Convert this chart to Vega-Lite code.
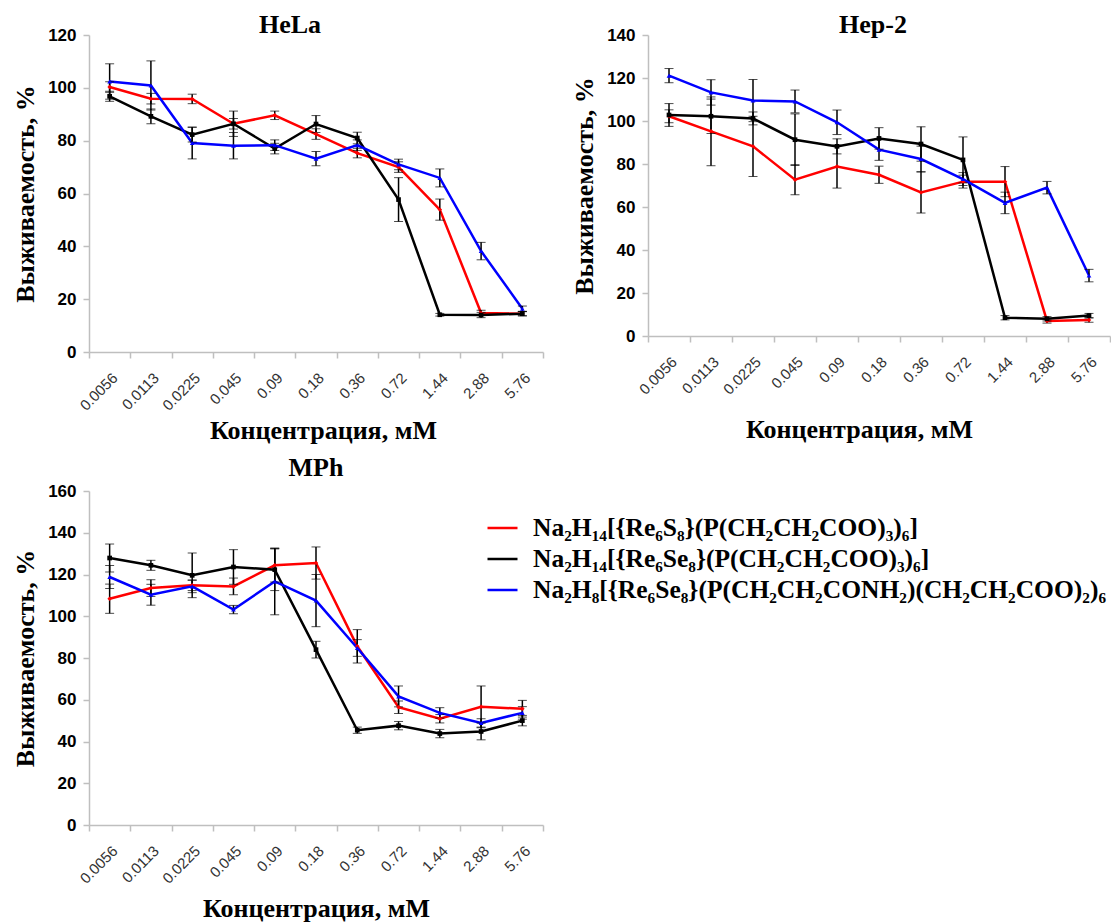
{
 "$schema": "https://vega.github.io/schema/vega-lite/v6.json",
 "padding": {"left": 12, "top": 12, "right": 0, "bottom": 0},
 "background": "white",
 "columns": 2,
 "align": "each",
 "bounds": "flush",
 "spacing": {"row": 139, "column": 105},
 "datasets": {"d": [
  {"p":"HeLa","s":"A","c":"0.0056","v":100.3,"e":2},{"p":"HeLa","s":"A","c":"0.0113","v":95.9,"e":2},{"p":"HeLa","s":"A","c":"0.0225","v":95.8,"e":1.8},{"p":"HeLa","s":"A","c":"0.045","v":86.4,"e":2},{"p":"HeLa","s":"A","c":"0.09","v":89.6,"e":1.6},{"p":"HeLa","s":"A","c":"0.18","v":82.5,"e":2},{"p":"HeLa","s":"A","c":"0.36","v":75.3,"e":1.8},{"p":"HeLa","s":"A","c":"0.72","v":70,"e":2},{"p":"HeLa","s":"A","c":"1.44","v":53.9,"e":4},{"p":"HeLa","s":"A","c":"2.88","v":14.8,"e":1},{"p":"HeLa","s":"A","c":"5.76","v":14.5,"e":0.8},
  {"p":"HeLa","s":"B","c":"0.0056","v":96.8,"e":1.9},{"p":"HeLa","s":"B","c":"0.0113","v":89.2,"e":2.8},{"p":"HeLa","s":"B","c":"0.0225","v":82.3,"e":2.8},{"p":"HeLa","s":"B","c":"0.045","v":86.4,"e":4.8},{"p":"HeLa","s":"B","c":"0.09","v":77,"e":2},{"p":"HeLa","s":"B","c":"0.18","v":86.3,"e":3.2},{"p":"HeLa","s":"B","c":"0.36","v":81,"e":2.2},{"p":"HeLa","s":"B","c":"0.72","v":57.7,"e":8.3},{"p":"HeLa","s":"B","c":"1.44","v":14.1,"e":0.5},{"p":"HeLa","s":"B","c":"2.88","v":14,"e":1},{"p":"HeLa","s":"B","c":"5.76","v":14.5,"e":0.8},
  {"p":"HeLa","s":"C","c":"0.0056","v":102.4,"e":6.7},{"p":"HeLa","s":"C","c":"0.0113","v":100.9,"e":9.3},{"p":"HeLa","s":"C","c":"0.0225","v":79.1,"e":6},{"p":"HeLa","s":"C","c":"0.045","v":78.1,"e":5},{"p":"HeLa","s":"C","c":"0.09","v":78.3,"e":2},{"p":"HeLa","s":"C","c":"0.18","v":73.2,"e":2.7},{"p":"HeLa","s":"C","c":"0.36","v":78.3,"e":2},{"p":"HeLa","s":"C","c":"0.72","v":71,"e":2},{"p":"HeLa","s":"C","c":"1.44","v":65.9,"e":3.4},{"p":"HeLa","s":"C","c":"2.88","v":38.2,"e":3.3},{"p":"HeLa","s":"C","c":"5.76","v":16.4,"e":1},
  {"p":"Hep","s":"A","c":"0.0056","v":102.2,"e":3},{"p":"Hep","s":"A","c":"0.0113","v":95.2,"e":16},{"p":"Hep","s":"A","c":"0.0225","v":88.2,"e":14},{"p":"Hep","s":"A","c":"0.045","v":72.7,"e":7},{"p":"Hep","s":"A","c":"0.09","v":78.8,"e":10},{"p":"Hep","s":"A","c":"0.18","v":75,"e":4},{"p":"Hep","s":"A","c":"0.36","v":66.8,"e":9.6},{"p":"Hep","s":"A","c":"0.72","v":71.8,"e":3},{"p":"Hep","s":"A","c":"1.44","v":71.8,"e":7},{"p":"Hep","s":"A","c":"2.88","v":7,"e":1},{"p":"Hep","s":"A","c":"5.76","v":7.4,"e":1},
  {"p":"Hep","s":"B","c":"0.0056","v":102.8,"e":5.3},{"p":"Hep","s":"B","c":"0.0113","v":102.2,"e":8},{"p":"Hep","s":"B","c":"0.0225","v":101.2,"e":3},{"p":"Hep","s":"B","c":"0.045","v":91.3,"e":12},{"p":"Hep","s":"B","c":"0.09","v":88.2,"e":3.5},{"p":"Hep","s":"B","c":"0.18","v":91.9,"e":5},{"p":"Hep","s":"B","c":"0.36","v":89.3,"e":8},{"p":"Hep","s":"B","c":"0.72","v":81.9,"e":10.7},{"p":"Hep","s":"B","c":"1.44","v":8.5,"e":1},{"p":"Hep","s":"B","c":"2.88","v":8,"e":1},{"p":"Hep","s":"B","c":"5.76","v":9.5,"e":1},
  {"p":"Hep","s":"C","c":"0.0056","v":121.1,"e":3.3},{"p":"Hep","s":"C","c":"0.0113","v":113.3,"e":5.9},{"p":"Hep","s":"C","c":"0.0225","v":109.5,"e":9.8},{"p":"Hep","s":"C","c":"0.045","v":109.1,"e":5.3},{"p":"Hep","s":"C","c":"0.09","v":99.4,"e":5.7},{"p":"Hep","s":"C","c":"0.18","v":86.7,"e":5},{"p":"Hep","s":"C","c":"0.36","v":82.3,"e":6},{"p":"Hep","s":"C","c":"0.72","v":73,"e":3},{"p":"Hep","s":"C","c":"1.44","v":61.9,"e":5},{"p":"Hep","s":"C","c":"2.88","v":69,"e":2.9},{"p":"Hep","s":"C","c":"5.76","v":28.1,"e":2.9},
  {"p":"MPh","s":"A","c":"0.0056","v":108.4,"e":7},{"p":"MPh","s":"A","c":"0.0113","v":113.5,"e":4},{"p":"MPh","s":"A","c":"0.0225","v":114.8,"e":2.5},{"p":"MPh","s":"A","c":"0.045","v":114.3,"e":4},{"p":"MPh","s":"A","c":"0.09","v":124.4,"e":8},{"p":"MPh","s":"A","c":"0.18","v":125.5,"e":7.7},{"p":"MPh","s":"A","c":"0.36","v":85.6,"e":8},{"p":"MPh","s":"A","c":"0.72","v":56.4,"e":3},{"p":"MPh","s":"A","c":"1.44","v":50.9,"e":2},{"p":"MPh","s":"A","c":"2.88","v":56.6,"e":10},{"p":"MPh","s":"A","c":"5.76","v":55.7,"e":4},
  {"p":"MPh","s":"B","c":"0.0056","v":127.9,"e":6.7},{"p":"MPh","s":"B","c":"0.0113","v":124.4,"e":2.4},{"p":"MPh","s":"B","c":"0.0225","v":119.6,"e":10.7},{"p":"MPh","s":"B","c":"0.045","v":123.6,"e":8.3},{"p":"MPh","s":"B","c":"0.09","v":122.3,"e":10},{"p":"MPh","s":"B","c":"0.18","v":84,"e":4},{"p":"MPh","s":"B","c":"0.36","v":45.4,"e":1.5},{"p":"MPh","s":"B","c":"0.72","v":47.6,"e":2},{"p":"MPh","s":"B","c":"1.44","v":43.8,"e":2},{"p":"MPh","s":"B","c":"2.88","v":44.8,"e":4},{"p":"MPh","s":"B","c":"5.76","v":50,"e":2.5},
  {"p":"MPh","s":"C","c":"0.0056","v":118.8,"e":5.5},{"p":"MPh","s":"C","c":"0.0113","v":110.3,"e":5},{"p":"MPh","s":"C","c":"0.0225","v":114.3,"e":3},{"p":"MPh","s":"C","c":"0.045","v":103.2,"e":2},{"p":"MPh","s":"C","c":"0.09","v":116.7,"e":16},{"p":"MPh","s":"C","c":"0.18","v":107.5,"e":12.5},{"p":"MPh","s":"C","c":"0.36","v":84.8,"e":4},{"p":"MPh","s":"C","c":"0.72","v":61.6,"e":5},{"p":"MPh","s":"C","c":"1.44","v":53.7,"e":2.5},{"p":"MPh","s":"C","c":"2.88","v":48.9,"e":2},{"p":"MPh","s":"C","c":"5.76","v":53.7,"e":3}
 ]},
 "resolve": {
  "scale": {"x": "independent", "y": "independent", "color": "independent"},
  "legend": {"color": "independent"}
 },
 "concat": [
  {
   "width": 454, "height": 317,
   "data": {"name": "d"},
   "transform": [{"filter": "datum.p === 'HeLa'"}],
   "title": {"text": "HeLa", "dx": -26, "offset": -12},
   "encoding": {
    "x": {"field": "c", "type": "ordinal", "scale": {"type": "band", "domain": ["0.0056","0.0113","0.0225","0.045","0.09","0.18","0.36","0.72","1.44","2.88","5.76"], "paddingInner": 0, "paddingOuter": 0}, "axis": {"title": "Концентрация, мМ", "titleX": 234, "titlePadding": 4}},
    "y": {"field": "v", "type": "quantitative", "scale": {"domain": [0, 120]}, "axis": {"title": "Выживаемость, %", "values": [0,20,40,60,80,100,120]}}
   },
   "layer": [
    {"mark": {"type": "line", "strokeWidth": 2.5}, "encoding": {"color": {"field": "s", "type": "nominal", "scale": {"domain": ["A","B","C"], "range": ["#ff0000","#000000","#0000ff"]}, "legend": null}}},
    {"mark": {"type": "errorbar", "color": "black", "ticks": {"size": 9, "strokeWidth": 1.5}, "rule": {"strokeWidth": 1.5}}, "encoding": {"yError": {"field": "e"}}},
    {"transform": [{"filter": "datum.s === 'A'"}], "mark": {"type": "point", "filled": true, "opacity": 1, "size": 20, "shape": "diamond", "color": "#ff0000"}},
    {"transform": [{"filter": "datum.s === 'B'"}], "mark": {"type": "point", "filled": true, "opacity": 1, "size": 22, "shape": "square", "color": "#000000"}},
    {"transform": [{"filter": "datum.s === 'C'"}], "mark": {"type": "point", "filled": true, "opacity": 1, "size": 22, "shape": "triangle-up", "color": "#0000ff"}}
   ]
  },
  {
   "width": 462, "height": 301,
   "data": {"name": "d"},
   "transform": [{"filter": "datum.p === 'Hep'"}],
   "title": {"text": "Hep-2", "dx": -6, "offset": -12},
   "encoding": {
    "x": {"field": "c", "type": "ordinal", "scale": {"type": "band", "domain": ["0.0056","0.0113","0.0225","0.045","0.09","0.18","0.36","0.72","1.44","2.88","5.76"], "paddingInner": 0, "paddingOuter": 0}, "axis": {"title": "Концентрация, мМ", "titleX": 211, "titlePadding": 19}},
    "y": {"field": "v", "type": "quantitative", "scale": {"domain": [0, 140]}, "axis": {"title": "Выживаемость, %", "values": [0,20,40,60,80,100,120,140]}}
   },
   "layer": [
    {"mark": {"type": "line", "strokeWidth": 2.5}, "encoding": {"color": {"field": "s", "type": "nominal", "scale": {"domain": ["A","B","C"], "range": ["#ff0000","#000000","#0000ff"]}, "legend": null}}},
    {"mark": {"type": "errorbar", "color": "black", "ticks": {"size": 9, "strokeWidth": 1.5}, "rule": {"strokeWidth": 1.5}}, "encoding": {"yError": {"field": "e"}}},
    {"transform": [{"filter": "datum.s === 'A'"}], "mark": {"type": "point", "filled": true, "opacity": 1, "size": 20, "shape": "diamond", "color": "#ff0000"}},
    {"transform": [{"filter": "datum.s === 'B'"}], "mark": {"type": "point", "filled": true, "opacity": 1, "size": 22, "shape": "square", "color": "#000000"}},
    {"transform": [{"filter": "datum.s === 'C'"}], "mark": {"type": "point", "filled": true, "opacity": 1, "size": 22, "shape": "triangle-up", "color": "#0000ff"}}
   ]
  },
  {
   "width": 454, "height": 334,
   "data": {"name": "d"},
   "transform": [{"filter": "datum.p === 'MPh'"}],
   "title": {"text": "MPh", "dx": 0, "offset": 1},
   "encoding": {
    "x": {"field": "c", "type": "ordinal", "scale": {"type": "band", "domain": ["0.0056","0.0113","0.0225","0.045","0.09","0.18","0.36","0.72","1.44","2.88","5.76"], "paddingInner": 0, "paddingOuter": 0}, "axis": {"title": "Концентрация, мМ", "titleX": 227, "titlePadding": 9}},
    "y": {"field": "v", "type": "quantitative", "scale": {"domain": [0, 160]}, "axis": {"title": "Выживаемость, %", "values": [0,20,40,60,80,100,120,140,160]}}
   },
   "layer": [
    {"mark": {"type": "line", "strokeWidth": 2.5}, "encoding": {"color": {"field": "s", "type": "nominal", "scale": {"domain": ["A","B","C"], "range": ["#ff0000","#000000","#0000ff"]}, "legend": {"orient": "none", "legendX": 397, "legendY": 27, "title": null, "symbolType": "stroke", "symbolSize": 900, "symbolStrokeWidth": 2.5, "labelFont": "Liberation Serif", "labelFontSize": 25.5, "labelFontWeight": "bold", "labelColor": "#000", "labelOffset": 14, "labelLimit": 900, "clipHeight": 20, "rowPadding": 5, "padding": 0, "labelExpr": "datum.label === 'A' ? 'Na₂H₁₄[{Re₆S₈}(P(CH₂CH₂COO)₃)₆]' : datum.label === 'B' ? 'Na₂H₁₄[{Re₆Se₈}(P(CH₂CH₂COO)₃)₆]' : 'Na₂H₈[{Re₆Se₈}(P(CH₂CH₂CONH₂)(CH₂CH₂COO)₂)₆'"}}}},
    {"mark": {"type": "errorbar", "color": "black", "ticks": {"size": 9, "strokeWidth": 1.5}, "rule": {"strokeWidth": 1.5}}, "encoding": {"yError": {"field": "e"}}},
    {"transform": [{"filter": "datum.s === 'A'"}], "mark": {"type": "point", "filled": true, "opacity": 1, "size": 20, "shape": "diamond", "color": "#ff0000"}},
    {"transform": [{"filter": "datum.s === 'B'"}], "mark": {"type": "point", "filled": true, "opacity": 1, "size": 22, "shape": "square", "color": "#000000"}},
    {"transform": [{"filter": "datum.s === 'C'"}], "mark": {"type": "point", "filled": true, "opacity": 1, "size": 22, "shape": "triangle-up", "color": "#0000ff"}}
   ]
  }
 ],
 "config": {
  "view": {"stroke": null},
  "axis": {"domainColor": "#bfbfbf", "domainWidth": 1.5, "tickColor": "#bfbfbf", "tickWidth": 1.5, "tickSize": 6, "grid": false, "titleFont": "Liberation Serif", "titleFontSize": 26, "titleFontWeight": "bold", "titleColor": "#000"},
  "axisY": {"labelFont": "Liberation Sans", "labelFontSize": 17, "labelFontWeight": "bold", "labelColor": "#000", "labelPadding": 7, "titlePadding": 9},
  "axisX": {"labelFont": "Liberation Sans", "labelFontSize": 15, "labelColor": "#333", "labelAngle": -45, "labelPadding": 12, "tickBand": "extent"},
  "title": {"font": "Liberation Serif", "fontSize": 26, "fontWeight": "bold", "color": "#000", "anchor": "middle", "frame": "group", "baseline": "alphabetic"}
 }
}
